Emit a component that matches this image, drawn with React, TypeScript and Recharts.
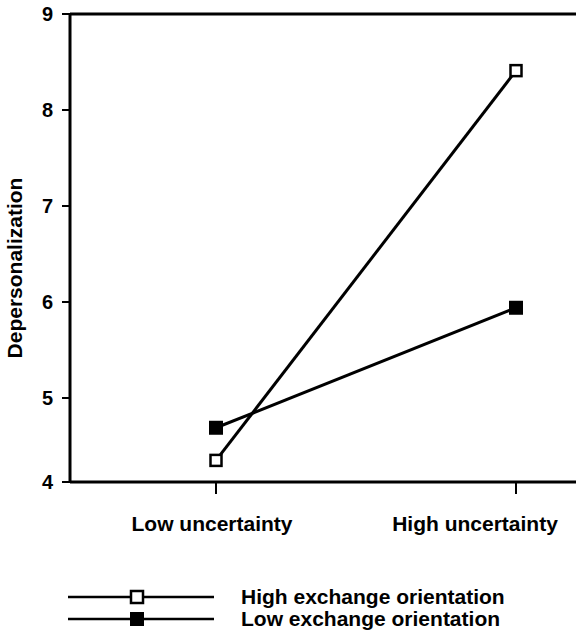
import { Label, Legend, Line, LineChart, ReferenceLine, XAxis, YAxis } from 'recharts';

const categories = ['Low uncertainty', 'High uncertainty'];
const highExchange = [4.35, 8.41];
const lowExchange = [4.69, 5.94];
// bottom of the axis sits a little above 4 in the original drawing
const yTicks = [4.125, 5, 6, 7, 8, 9];
const seriesNames = ['High exchange orientation', 'Low exchange orientation'];

const data = categories.map((c, i) => ({ name: c, high: highExchange[i], low: lowExchange[i] }));

const FONT = '"Liberation Sans", Arial, sans-serif';

const OpenSquare = (props: any) => {
  const { cx, cy } = props;
  if (cx == null || cy == null) return null;
  return <rect x={cx - 5.5} y={cy - 5.5} width={11} height={11} fill="#fff" stroke="#000" strokeWidth={2.5} />;
};

const FilledSquare = (props: any) => {
  const { cx, cy } = props;
  if (cx == null || cy == null) return null;
  return <rect x={cx - 7} y={cy - 7} width={14} height={14} fill="#000" />;
};

const XTick = (props: any) => {
  const { x, y, payload, index } = props;
  // last label is pulled left so it stays inside the page
  const shift = index === categories.length - 1 ? -41 : -4;
  return (
    <text x={x + shift} y={y + 35} textAnchor="middle" fontFamily={FONT} fontWeight="bold" fontSize={21} fill="#000">
      {payload.value}
    </text>
  );
};

const LegendBox = () => (
  <svg width={520} height={50} style={{ display: 'block' }}>
    {seriesNames.map((name, i) => {
      const y = 17 + i * 22;
      return (
        <g key={name}>
          <line x1={8} x2={154} y1={y} y2={y} stroke="#000" strokeWidth={2.5} />
          {i === 0 ? (
            <rect x={71} y={y - 6} width={12} height={12} fill="#fff" stroke="#000" strokeWidth={2.5} />
          ) : (
            <rect x={70} y={y - 7} width={14} height={14} fill="#000" />
          )}
          <text x={181} y={y + 7} fontFamily={FONT} fontWeight="bold" fontSize={21} fill="#000">
            {name}
          </text>
        </g>
      );
    })}
  </svg>
);

export default function App() {
  return (
    <div style={{ position: 'absolute', left: 0, top: 0, background: '#fff' }}>
      {/* bottom margin leaves room for the 50px legend box that recharts reserves */}
      <LineChart width={576} height={633} data={data} margin={{ top: 14, right: 0, left: 0, bottom: 51 }}>
        <XAxis
          dataKey="name"
          padding={{ left: 146, right: 60 }}
          axisLine={{ stroke: '#000', strokeWidth: 3 }}
          tickLine={{ stroke: '#000', strokeWidth: 2 }}
          tickSize={12}
          tick={<XTick />}
          height={50}
          interval={0}
        />
        <YAxis
          type="number"
          domain={[4.125, 9]}
          ticks={yTicks}
          tickFormatter={(v: number) => `${Math.round(v)}`}
          width={70}
          axisLine={{ stroke: '#000', strokeWidth: 3 }}
          tickLine={{ stroke: '#000', strokeWidth: 2 }}
          tickSize={8}
          tickMargin={9}
          tick={{ fontFamily: FONT, fontWeight: 'bold', fontSize: 20, fill: '#000' }}
        >
          <Label
            content={(p: any) => {
              const vb = p.viewBox || { x: 0, y: 14, height: 468 };
              const cx = vb.x + 14;
              const cy = vb.y + vb.height / 2 + 20;
              return (
                <text
                  transform={`translate(${cx},${cy}) rotate(-90)`}
                  textAnchor="middle"
                  dominantBaseline="central"
                  fontFamily={FONT}
                  fontWeight="bold"
                  fontSize={21}
                  fill="#000"
                >
                  Depersonalization
                </text>
              );
            }}
          />
        </YAxis>
        <ReferenceLine y={9} stroke="#000" strokeWidth={3} />
        <Line
          dataKey="high"
          name={seriesNames[0]}
          stroke="#000"
          strokeWidth={3}
          dot={<OpenSquare />}
          activeDot={false}
          isAnimationActive={false}
        />
        <Line
          dataKey="low"
          name={seriesNames[1]}
          stroke="#000"
          strokeWidth={3}
          dot={<FilledSquare />}
          activeDot={false}
          isAnimationActive={false}
        />
        <Legend content={<LegendBox />} wrapperStyle={{ position: 'absolute', left: 60, top: 580, width: 520 }} />
      </LineChart>
    </div>
  );
}
